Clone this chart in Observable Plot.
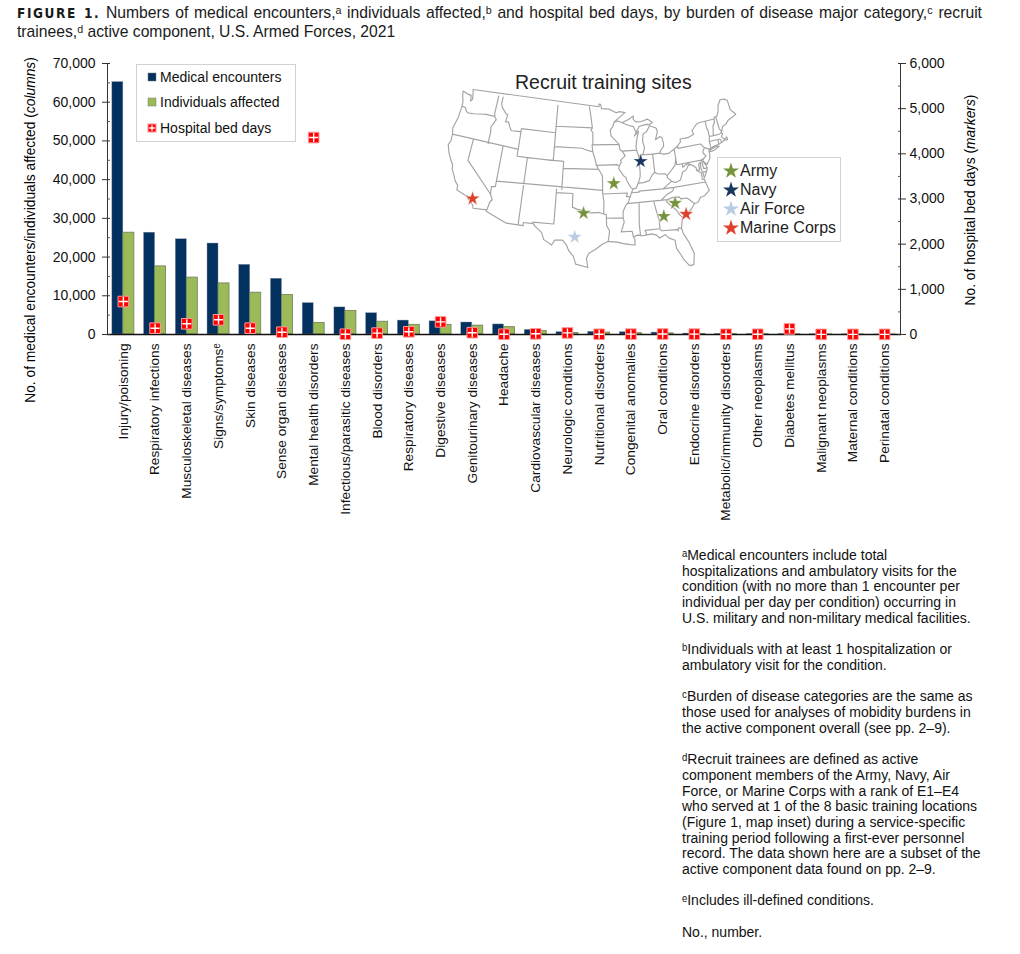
<!DOCTYPE html>
<html><head><meta charset="utf-8">
<script src="https://cdn.jsdelivr.net/npm/d3@7"></script>
<script src="https://cdn.jsdelivr.net/npm/@observablehq/plot@0.6"></script>
<style>
html,body{margin:0;padding:0;background:#fff;width:1020px;height:954px;overflow:hidden;font-family:"Liberation Sans",Arial,sans-serif;color:#000}
.abs{position:absolute}
.tline{left:17px;width:965px;font-size:15.7px;line-height:19px;color:#1a1a1a;white-space:nowrap}
#t1{top:3px;white-space:normal;text-align:justify;text-align-last:justify}
#t2{top:22px}
#t1 b{font-family:"DejaVu Sans Condensed","Liberation Sans";font-stretch:condensed;letter-spacing:1.6px;font-size:13.5px}
#notes{left:682px;top:548px;width:320px;font-size:14px;line-height:15.7px;color:#111;white-space:nowrap}
.vlabel{transform:translate(-50%,-50%) rotate(-90deg);white-space:nowrap;font-size:13.8px}
.box{background:#fff;border:1.5px solid #d2d2d2;box-sizing:border-box}
.row{position:absolute;display:flex;align-items:center;white-space:nowrap}
.row svg{display:block;overflow:visible}
</style></head><body>
<div id="root"></div>
<script>
const categories=["Injury/poisoning","Respiratory infections","Musculoskeletal diseases","Signs/symptoms","Skin diseases","Sense organ diseases","Mental health disorders","Infectious/parasitic diseases","Blood disorders","Respiratory diseases","Digestive diseases","Genitourinary diseases","Headache","Cardiovascular diseases","Neurologic conditions","Nutritional disorders","Congenital anomalies","Oral conditions","Endocrine disorders","Metabolic/immunity disorders","Other neoplasms","Diabetes mellitus","Malignant neoplasms","Maternal conditions","Perinatal conditions"];
const medicalEncounters=[65200,26300,24600,23500,18000,14400,8100,7000,5500,3600,3400,3100,2600,1200,600,700,600,500,250,150,120,120,60,40,10];
const individualsAffected=[26300,17600,14700,13200,10800,10200,3000,6100,3300,2500,2500,2300,1900,900,400,500,350,300,150,80,80,70,30,20,5];
const hospitalBedDays=[730,140,237,325,140,51,4360,5,30,60,280,40,5,15,35,5,8,10,8,5,5,125,3,3,3];
const leftMajor=[0,10000,20000,30000,40000,50000,60000,70000];
const leftMinor=[5000,15000,25000,35000,45000,55000,65000];
const rightMajor=[0,1000,2000,3000,4000,5000,6000];
const rightMinor=[500,1500,2500,3500,4500,5500];

const coastline=[
[[-122.76,49],[-122.5,48.4],[-122.3,47.6],[-122.6,47.3],[-122.8,48.1],[-123.5,48.15],[-124.7,48.38],[-124.6,47.9],[-124.1,46.9],[-124,46.27],[-124.07,44.6],[-124.5,42.85],[-124.2,42],[-124.1,41],[-124.4,40.4],[-123.8,39.3],[-123,38.3],[-122.5,37.75],[-122.4,37.2],[-121.9,36.6],[-121.3,35.7],[-120.65,35.15],[-120.6,34.55],[-119.2,34.15],[-118.5,34.03],[-118.4,33.75],[-117.3,33],[-117.12,32.53],[-114.72,32.72],[-114.8,32.5],[-111.07,31.33],[-108.21,31.33],[-108.21,31.78],[-106.53,31.78],[-106.2,31.45],[-105,30.65],[-104.5,29.65],[-103.15,28.98],[-102.7,29.7],[-101.4,29.77],[-100.7,29.1],[-100.3,28.3],[-99.5,27.5],[-99.1,26.4],[-97.15,25.95],[-97.4,27.3],[-97,28],[-95.9,28.6],[-94.75,29.35],[-93.85,29.7],[-92.3,29.55],[-91.3,29.3],[-90.2,29.1],[-89.4,29],[-89.4,29.8],[-89.6,30.17],[-88.9,30.4],[-88,30.25],[-87.5,30.3],[-86.5,30.4],[-85.7,30.15],[-85.3,29.68],[-84.3,30.07],[-83.7,29.5],[-82.8,29.1],[-82.75,27.9],[-82.2,26.9],[-81.8,26.1],[-81.1,25.15],[-80.4,25.2],[-80.05,26.8],[-80.55,28.4],[-81.3,29.9],[-81.45,30.7],[-81.1,31.9],[-80.85,32.05],[-79.9,32.7],[-79.2,33.2],[-78.55,33.85],[-77.95,33.9],[-77.3,34.55],[-76.55,34.65],[-75.55,35.25],[-75.9,36.55],[-76,36.95],[-76.35,37],[-76.3,37.95],[-77.05,38.4],[-76.5,38.4],[-76.45,39.2],[-76.05,39.45],[-76.2,38.6],[-76,37.9],[-75.95,37.15],[-75.25,38.03],[-75.05,38.45],[-75.1,38.8],[-75.55,39.5],[-75.4,39.8],[-75.55,39.5],[-74.9,38.95],[-74.1,39.75],[-74,40.45],[-74,40.7],[-73.9,41],[-73.65,40.98],[-72.9,41.25],[-71.85,41.32],[-71.4,41.45],[-71.1,41.5],[-70.65,41.7],[-70,41.65],[-70,42.05],[-70.55,41.8],[-71,42.3],[-70.6,42.65],[-70.8,42.9],[-70.6,43.1],[-70.25,43.65],[-69.5,43.85],[-68.8,44.3],[-67.8,44.55],[-66.97,44.82],[-67.45,45.3],[-67.8,45.7],[-67.8,47.07],[-68.3,47.35],[-69.25,47.45],[-70,46.7],[-70.3,45.9],[-70.85,45.25],[-71.4,45.25],[-71.5,45],[-74.7,45],[-75.3,44.85],[-76.4,44.1],[-76.2,43.55],[-77.5,43.25],[-79.05,43.26],[-79.05,42.85],[-80.1,42.15],[-81.7,41.5],[-82.7,41.5],[-83.45,41.72],[-83.15,42.1],[-82.5,42.6],[-82.4,43],[-82.6,43.9],[-83,44.05],[-83.9,43.7],[-83.3,44.85],[-83.5,45.35],[-84.75,45.78],[-85.5,45],[-86.25,44.7],[-86.5,43.7],[-86.25,42.8],[-86.6,41.9],[-87.2,41.65],[-87.55,41.7],[-87.8,42.3],[-87.9,43],[-87.55,44.2],[-87.1,45.2],[-88,44.55],[-87.6,45.1],[-86.9,45.85],[-85.5,46.05],[-84.75,45.95],[-84.1,46.2],[-84.55,46.5],[-85,46.77],[-86.5,46.5],[-87.5,46.55],[-88,46.95],[-87.9,47.45],[-88.9,47],[-90.4,46.57],[-91.2,46.85],[-92.05,46.7],[-91,47.3],[-89.6,48],[-90.8,48.2],[-91.5,48.05],[-92.95,48.62],[-94.6,48.72],[-94.8,49.35],[-95.15,49.38],[-95.15,49],[-122.76,49]],
[[-74,40.6],[-73.75,40.85],[-72.3,41.15],[-71.9,41.05],[-73,40.65],[-74,40.6]]
];
const stateBorders=[
[[-124,46.27],[-123.2,46.15],[-122.8,45.65],[-122.25,45.55],[-121.2,45.65],[-119.3,45.93],[-118.98,46],[-116.92,46]],
[[-117.03,49],[-117.04,46.42],[-116.92,46],[-116.47,45.6],[-116.85,44.95],[-117.2,44.4],[-117.03,43.8],[-117.03,42]],
[[-124.2,42],[-111.05,42]],
[[-120,42],[-120,39],[-114.63,35],[-114.15,34.27],[-114.5,33.9],[-114.72,32.72]],
[[-114.05,42],[-114.05,36.2],[-114.75,36.1],[-114.63,35]],
[[-114.05,37],[-94.62,37]],
[[-116.05,49],[-116.05,48],[-115.7,47.45],[-114.7,46.7],[-114.35,46.65],[-114.5,45.55],[-113.9,45.65],[-113.45,44.95],[-113,44.45],[-111.5,44.55],[-111.05,44.5]],
[[-111.05,45],[-111.05,41],[-104.05,41]],
[[-111.05,45],[-104.05,45]],
[[-111.05,41],[-109.05,41],[-109.05,31.33]],
[[-109.05,41],[-102.05,41],[-102.05,37]],
[[-103,37],[-103.04,32],[-106.62,32],[-106.53,31.78]],
[[-103,36.5],[-100,36.5],[-100,34.56],[-99.2,34.3],[-98.1,34.13],[-97.2,33.85],[-96.5,33.8],[-95.3,33.87],[-94.48,33.64],[-94.04,33.55],[-94.04,32],[-93.55,31.2],[-93.7,30.3],[-93.85,29.7]],
[[-94.62,37],[-94.62,36.5],[-94.43,35.4],[-94.48,33.64]],
[[-94.62,37],[-94.62,39.1],[-95.3,40],[-95.77,40.6],[-95.85,41],[-96.1,41.7],[-96.45,42.5]],
[[-102.05,40],[-95.3,40]],
[[-104.05,43],[-98.5,43],[-97.9,42.8],[-96.45,42.5]],
[[-104.05,45.94],[-96.56,45.94]],
[[-104.05,49],[-104.05,41]],
[[-97.23,49],[-96.85,47.5],[-96.56,45.94],[-96.85,45.6],[-96.45,45.3],[-96.45,43.5],[-96.6,43.5],[-96.45,42.5]],
[[-96.45,43.5],[-91.22,43.5]],
[[-95.77,40.58],[-91.73,40.61],[-91.42,40.38]],
[[-92.05,46.7],[-92.3,46.1],[-92.9,45.6],[-92.75,44.75],[-91.22,43.5],[-91.1,42.7],[-90.65,42.5],[-90.15,41.8],[-91.1,41.2],[-90.95,40.95],[-91.42,40.38],[-91.5,40],[-90.7,39],[-90.2,38.7],[-90.2,38.4],[-89.5,37.3],[-89.15,37],[-89.4,36.5],[-89.7,36],[-90.1,35.1],[-90.3,35],[-90.6,34.7],[-91.1,33.9],[-91.15,33],[-91,32.4],[-91.6,31],[-89.75,31],[-89.6,30.17]],
[[-94.62,36.5],[-90.15,36.5],[-90.37,36],[-89.7,36]],
[[-94.04,33.02],[-91.15,33]],
[[-90.65,42.5],[-87.8,42.5]],
[[-90.4,46.57],[-89.1,46.15],[-88.1,45.9],[-87.8,45.35],[-87.6,45.1]],
[[-87.53,41.7],[-87.53,39.35],[-87.6,38.7],[-88.05,37.8],[-88.5,37.1],[-89.15,37]],
[[-88.05,37.8],[-87.1,37.8],[-86,38],[-85.4,38.7],[-84.82,39.1],[-84.3,38.8],[-83,38.7],[-82.6,38.4],[-81.75,39],[-80.85,39.7],[-80.52,40.64]],
[[-84.82,39.1],[-84.8,41.7]],
[[-87.2,41.76],[-84.8,41.7],[-83.45,41.72]],
[[-80.52,41.98],[-80.52,39.72],[-75.79,39.72]],
[[-79.76,42.27],[-79.76,42],[-75.35,42],[-75.05,41.75],[-74.7,41.36],[-73.9,41]],
[[-74.7,41.36],[-75.1,40.95],[-75.2,40.65],[-74.75,40.2],[-75.4,39.8]],
[[-75.79,39.72],[-75.6,39.84],[-75.4,39.8]],
[[-75.79,39.72],[-75.7,38.46],[-75.05,38.45]],
[[-75.95,37.95],[-75.25,38.03]],
[[-77.05,38.4],[-77.05,38.8],[-77.7,39.3],[-78.4,39.6],[-79,39.45],[-79.48,39.2],[-79.48,39.72]],
[[-77.7,39.3],[-78.35,39.4],[-78.9,38.8],[-79.65,38.55],[-80.3,37.5],[-81.25,37.25],[-81.95,37.5],[-83.68,36.6]],
[[-82.6,38.4],[-82.6,38.1],[-81.95,37.5]],
[[-89.4,36.5],[-88.05,36.5],[-88.05,36.65],[-83.68,36.6],[-81.68,36.59],[-75.9,36.55]],
[[-81.68,36.59],[-82,36.1],[-83.1,35.75],[-84.3,35]],
[[-90.3,35],[-83.11,35]],
[[-83.11,35],[-82.3,35.2],[-81.05,35.15],[-80.8,34.82],[-79.67,34.8],[-78.55,33.85]],
[[-83.11,35],[-83.35,34.7],[-82.6,34],[-81.9,33.4],[-81.4,32.6],[-80.85,32.05]],
[[-85.6,35],[-85.18,32.87],[-85,32.3],[-85.05,31],[-84.86,30.7],[-82.2,30.55],[-82.05,30.36],[-82,30.75],[-81.45,30.7]],
[[-85.05,31],[-87.6,31],[-87.4,30.65],[-87.5,30.3]],
[[-88.2,35],[-88.47,31.9],[-88.4,30.3]],
[[-73.35,45],[-73.4,44],[-73.25,43.55],[-73.27,42.75],[-73.5,42.05],[-73.5,41.3],[-73.65,40.98]],
[[-73.5,42.05],[-71.8,42.02],[-71.38,42.02],[-71.2,41.5]],
[[-71.8,42.02],[-71.85,41.32]],
[[-73.27,42.75],[-72.46,42.73],[-71.3,42.7],[-70.85,42.87]],
[[-71.5,45],[-71.6,44.5],[-72.05,44.1],[-72.46,42.73]],
[[-71.08,45.3],[-70.98,43.4],[-70.7,43.07]]
];
const siteNames=["Fort Jackson","Fort Benning","Fort Sill","Fort Leonard Wood","Great Lakes","Lackland","Parris Island","San Diego"];
const siteBranch=["Army","Army","Army","Army","Navy","Air Force","Marine Corps","Marine Corps"];
const siteLon=[-81.9,-84.15,-98.0,-92.55,-87.25,-99.4,-80.3,-117.55];
const siteLat=[34.35,32.7,33.75,37.95,40.85,30.3,32.55,33.85];
const branches=["Army","Navy","Air Force","Marine Corps"];
const branchColors=["#76923c","#17375e","#b8cce4","#e0402a"];

const FONT='"Liberation Sans",Arial,sans-serif';
const ratio=70000/6000;
const rows=categories.map((c,i)=>({c,med:medicalEncounters[i],ind:individualsAffected[i],bed:hospitalBedDays[i]*ratio}));
const fmt=d3.format(",");
const BAND=793/25,BW=11,OUT=(BAND-2*BW)/2;
const root=document.getElementById("root");

const chart=Plot.plot({
  width:1020,height:530,marginTop:63,marginBottom:196,marginLeft:107,marginRight:120,
  style:{fontFamily:FONT,background:"transparent",overflow:"visible"},
  x:{type:"band",domain:categories,padding:0,round:false,axis:null},
  y:{domain:[0,70000],axis:null},
  marks:[
    Plot.barY(rows,{x:"c",y:"med",fill:"#03315f",stroke:"#8a93a0",strokeWidth:.4,insetLeft:OUT,insetRight:OUT+BW}),
    Plot.barY(rows,{x:"c",y:"ind",fill:"#9bbb59",stroke:"#6f7d5c",strokeWidth:.8,insetLeft:OUT+BW,insetRight:OUT}),
    Plot.frame({anchor:"left",stroke:"#333"}),
    Plot.frame({anchor:"right",stroke:"#333"}),
    Plot.frame({anchor:"bottom",stroke:"#111",strokeWidth:1.3}),
    Plot.axisY(leftMajor,{anchor:"left",tickSize:5,tickPadding:7,fontSize:14,tickFormat:fmt,label:null,stroke:"#333",color:"#111"}),
    Plot.axisY(leftMajor,{anchor:"left",tickSize:-3,tickFormat:()=>"",label:null,stroke:"#333"}),
    Plot.axisY(leftMinor,{anchor:"left",tickSize:-3,tickFormat:()=>"",label:null,stroke:"#555"}),
    Plot.axisY(rightMajor.map(d=>d*ratio),{anchor:"right",tickSize:5,tickPadding:4,fontSize:14,tickFormat:d=>fmt(Math.round(d/ratio)),label:null,stroke:"#333",color:"#111"}),
    Plot.axisY(rightMajor.map(d=>d*ratio),{anchor:"right",tickSize:-3,tickFormat:()=>"",label:null,stroke:"#333"}),
    Plot.axisY(rightMinor.map(d=>d*ratio),{anchor:"right",tickSize:-3,tickFormat:()=>"",label:null,stroke:"#555"}),
    Plot.axisX({anchor:"bottom",tickSize:0,tickRotate:-90,tickPadding:9,fontSize:13.7,label:null,color:"#111",
      tickFormat:d=>d==="Signs/symptoms"?"Signs/symptomsᵉ":d}),
    Plot.dot(rows,{x:"c",y:"bed",symbol:"square",r:6,fill:"#ff0000",stroke:"#ff9a9a",strokeWidth:1}),
    Plot.dot(rows,{x:"c",y:"bed",symbol:"plus",r:3,stroke:"#fff",strokeWidth:1.4})
  ]
});
chart.setAttribute("class",chart.getAttribute("class")+" abs");
chart.style.left="0";chart.style.top="0";chart.style.maxWidth="none";
root.appendChild(chart);

function addDiv(cls,html,left,top,extra){
  const d=document.createElement("div");d.className=cls;d.innerHTML=html;
  if(left!=null)d.style.left=left+"px";if(top!=null)d.style.top=top+"px";
  if(extra)Object.assign(d.style,extra);root.appendChild(d);return d;
}
addDiv("abs tline","<b>FIGURE 1.</b> Numbers of medical encounters,ᵃ individuals affected,ᵇ and hospital bed days, by burden of disease major category,ᶜ recruit").id="t1";
addDiv("abs tline","trainees,ᵈ active component, U.S. Armed Forces, 2021").id="t2";
addDiv("abs vlabel","No. of medical encounters/individuals affected (<i>columns</i>)",30,230);
addDiv("abs vlabel","No. of hospital bed days (<i>markers</i>)",970,200);

// chart legend
addDiv("abs box","",136,64,{width:"160px",height:"78px"});
const sw=(c)=>`<svg width="10" height="10" style="margin-right:3px"><rect x="1" y="1" width="8" height="8" fill="${c}" stroke="#777" stroke-width=".5"/></svg>`;
const swBed=`<svg width="10" height="10" style="margin-right:3px"><rect x="1" y="1" width="8" height="8" fill="#f00" stroke="#ff9a9a"/><path d="M5 2.2V7.8M2.2 5H7.8" stroke="#fff" stroke-width="1.3"/></svg>`;
[["Medical encounters",sw("#03315f"),77],["Individuals affected",sw("#9bbb59"),102],["Hospital bed days",swBed,128]].forEach(([t,s,y])=>{
  addDiv("row",s+t,147,y-10,{height:"20px",fontSize:"14px",color:"#111"});
});

// map inset
const mapGeo={type:"MultiLineString",coordinates:[...coastline,...stateBorders]};
const sites=siteNames.map((n,i)=>({n,lon:siteLon[i],lat:siteLat[i],branch:siteBranch[i]}));
const map=Plot.plot({
  width:293,height:180,margin:0,
  style:{background:"transparent",overflow:"visible"},
  projection:{type:"conic-equal-area",rotate:[96,0],parallels:[29.5,45.5],domain:mapGeo,inset:1},
  color:{domain:branches,range:branchColors},
  marks:[
    Plot.geo(mapGeo,{stroke:"#a3a3a3",strokeWidth:1.15,fill:"none"}),
    Plot.dot(sites,{x:"lon",y:"lat",symbol:"star",r:4.6,fill:"branch",stroke:"#fff",strokeOpacity:.45,strokeWidth:.8})
  ]
});
map.setAttribute("class",map.getAttribute("class")+" abs");
map.style.left="445px";map.style.top="88px";map.style.maxWidth="none";
root.appendChild(map);
addDiv("abs","Recruit training sites",515,72,{fontSize:"19.5px",lineHeight:"20px",color:"#222",whiteSpace:"nowrap"});

// map legend
addDiv("abs box","",717,157,{width:"124px",height:"85px"});
const starPath=d3.symbol(d3.symbolStar,80)();
branches.forEach((b,i)=>{
  const s=`<svg width="14" height="14" viewBox="-7 -7 14 14" style="margin-right:2px"><path d="${starPath}" fill="${branchColors[i]}"/></svg>`;
  addDiv("row",s+b,724,171+i*19-10,{height:"20px",fontSize:"16px",color:"#222"});
});

// footnotes
addDiv("abs",[
"ᵃMedical encounters include total","hospitalizations and ambulatory visits for the","condition (with no more than 1 encounter per","individual per day per condition) occurring in","U.S. military and non-military medical facilities.","",
"ᵇIndividuals with at least 1 hospitalization or","ambulatory visit for the condition.","",
"ᶜBurden of disease categories are the same as","those used for analyses of mobidity burdens in","the active component overall (see pp. 2–9).","",
"ᵈRecruit trainees are defined as active","component members of the Army, Navy, Air","Force, or Marine Corps with a rank of E1–E4","who served at 1 of the 8 basic training locations","(Figure 1, map inset) during a service-specific","training period following a first-ever personnel","record. The data shown here are a subset of the","active component data found on pp. 2–9.","",
"ᵉIncludes ill-defined conditions.","","No., number."].join("<br>")).id="notes";
</script>
</body></html>
